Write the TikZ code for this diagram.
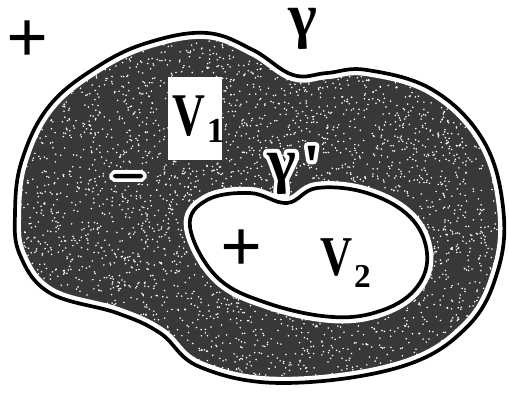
\documentclass[tikz,border=0pt]{standalone}
\usepackage{fontspec}
\setmainfont{Liberation Serif}
\usetikzlibrary{positioning}

\newcommand{\outerblob}{plot[smooth cycle, tension=0.65] coordinates {
    (15,213) (22,160) (50,105) (100,65) (150,42) (207,33) (253,50)
    (293,75) (327,73) (367,70) (433,90) (483,140) (503,207) (498,270)
    (467,327) (400,367) (283,383) (200,367) (160,333) (117,313)
    (50,293) (20,255)}}
\newcommand{\innerblob}{plot[smooth cycle, tension=0.65] coordinates {
    (190,227) (207,200) (250,193) (287,203) (317,188) (367,193)
    (410,217) (427,253) (417,287) (383,310) (333,317) (267,303)
    (217,277)}}
% white outline under a black text
\newcommand{\haloword}[1]{\rlap{\special{pdf:literal direct 2 Tr 4.5 w 1 j}%
    \textcolor{white}{#1}\special{pdf:literal direct 0 Tr}}#1}

\begin{document}
\begin{tikzpicture}[
    x=0.02cm, y=-0.02cm,
    region/.style={fill=black!78},
    speck/.style={fill=white},
    halo/.style={draw=white, line width=7pt},
    rim/.style={draw=black, line width=2.1pt},
    sign/.style={font=\fontsize{42}{42}\selectfont\bfseries, inner sep=0pt},
    greek/.style={font=\fontsize{35}{35}\selectfont\bfseries, inner sep=0pt, anchor=base west},
    vlabel/.style={font=\bfseries, inner sep=0pt, anchor=base west}
]
\useasboundingbox (0,0) rectangle (509,392);

% Outer domain, stippled
\path[region] \outerblob;
\begin{scope}
\clip \outerblob;
\pgfmathsetseed{11}
\foreach \i in {1,...,5000}
    \fill[speck] (rnd*509, rnd*392) circle (0.5pt);
\end{scope}
\path[halo] \outerblob;
\path[rim] \outerblob;

% Inner hole V2
\path[fill=white, halo] \innerblob;
\path[rim] \innerblob;

% Box V1
\node[fill=white, minimum width=54*0.02cm, minimum height=83*0.02cm,
      inner sep=0pt] (boxone) at (195,118) {};
\node[vlabel] (vone) at (172,135)
    {\fontsize{34.5}{34.5}\selectfont\scalebox{0.75}[1]{V}%
     \kern1pt\raisebox{-4pt}{\fontsize{20}{20}\selectfont 1}};

% Labels
\node[sign] (plusout) at (28,42) {+};
\node[greek] (gamma) at (288,36) {γ};
\node[fill=black, preaction={draw=white, line width=4pt},
      rounded corners=1pt, minimum width=30*0.02cm,
      minimum height=4.5*0.02cm, inner sep=0pt] (minus) at (128,176) {};
\node[greek] (gammap) at (267,181)
    {\haloword{γ\kern4pt\raisebox{-3pt}{\addfontfeature{Ligatures=TeXOff}'}}};
\node[sign] (plusin) at (242,251) {+};
\node[vlabel] (vtwo) at (320,275)
    {\fontsize{32}{32}\selectfont\scalebox{0.79}[1]{V}%
     \kern1pt\raisebox{-7pt}{\fontsize{19}{19}\selectfont 2}};

\end{tikzpicture}
\end{document}
